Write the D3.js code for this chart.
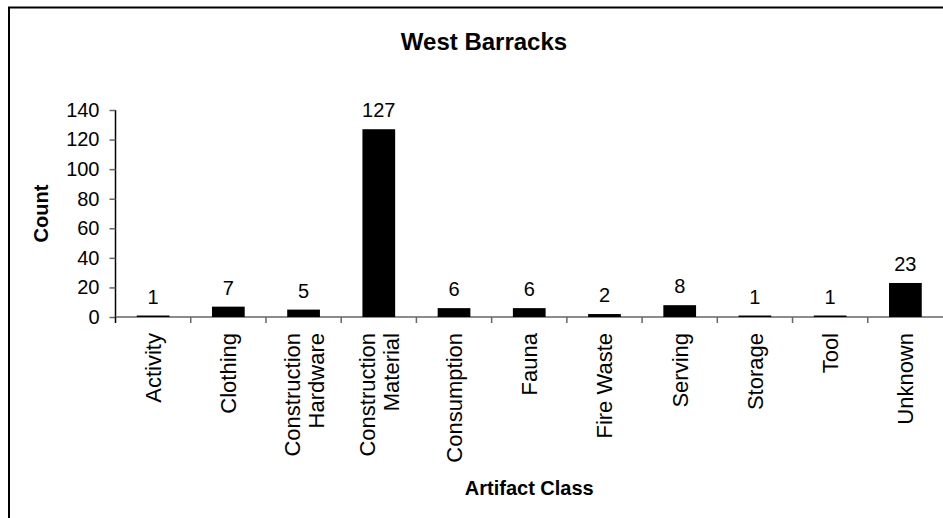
<!DOCTYPE html>
<html><head><meta charset="utf-8">
<script src="https://cdn.jsdelivr.net/npm/d3@7"></script>
<style>
html,body{margin:0;padding:0;background:#fff;}
svg{display:block;font-family:Arial,"Liberation Sans",sans-serif;}
</style></head>
<body><svg id="c" width="943" height="518"></svg>
<script>
const categories = ["Activity","Clothing","Construction Hardware","Construction Material","Consumption","Fauna","Fire Waste","Serving","Storage","Tool","Unknown"];
const categoryLines = [["Activity"],["Clothing"],["Construction","Hardware"],["Construction","Material"],["Consumption"],["Fauna"],["Fire Waste"],["Serving"],["Storage"],["Tool"],["Unknown"]];
const counts = [1,7,5,127,6,6,2,8,1,1,23];
const yTicks = [0,20,40,60,80,100,120,140];
const title = "West Barracks";
const xTitle = "Artifact Class";
const yTitle = "Count";

const svg = d3.select("#c");
const W = 943, H = 518;
const m = {left:115.5, right:0, top:110, bottom:201};
const x = d3.scaleBand().domain(categories).range([m.left, W - m.right]).paddingInner(0.565).paddingOuter(0.2825);
const y = d3.scaleLinear().domain([0,140]).range([H - m.bottom, m.top]);

// outer border (clipped at right/bottom)
svg.append("rect").attr("x",9).attr("y",7.5).attr("width",1000).attr("height",600)
  .attr("fill","none").attr("stroke","#000").attr("stroke-width",2);

svg.append("text").attr("x",484).attr("y",50).attr("text-anchor","middle")
  .attr("font-weight","bold").attr("font-size",24).text(title);

// y axis
const yAxis = svg.append("g").attr("transform",`translate(${m.left},0)`)
  .call(d3.axisLeft(y).tickValues(yTicks).tickSize(6).tickPadding(10).tickFormat(d3.format("d")));
yAxis.select(".domain").attr("stroke","#000").attr("stroke-width",1.5).attr("d",`M0,${y(0)}V${y(140)}`);
yAxis.selectAll(".tick line").attr("stroke","#666").attr("stroke-width",1.5);
yAxis.selectAll(".tick text").attr("font-size",20).attr("fill","#000").attr("font-family","Arial,'Liberation Sans',sans-serif");

// x axis baseline and tick separators
const xg = svg.append("g");
xg.append("line").attr("x1",m.left).attr("x2",W).attr("y1",y(0)).attr("y2",y(0)).attr("stroke","#666").attr("stroke-width",1.5);
const step = x.step();
categories.forEach((c,i)=>{
  const xs = x(c) - (step - x.bandwidth())/2;
  xg.append("line").attr("x1",xs).attr("x2",xs).attr("y1",y(0)).attr("y2",y(0)+6)
    .attr("stroke", i===0 ? "#000" : "#666").attr("stroke-width",1.5);
});

// bars
svg.append("g").selectAll("rect").data(counts).join("rect")
  .attr("x",(d,i)=>x(categories[i])).attr("width",x.bandwidth())
  .attr("y",d=>y(d)).attr("height",d=>y(0)-y(d)).attr("fill","#000");

// value labels
svg.append("g").selectAll("text").data(counts).join("text")
  .attr("x",(d,i)=>x(categories[i])+x.bandwidth()/2).attr("y",d=>y(d)-12)
  .attr("text-anchor","middle").attr("font-size",20).text(d=>d);

// category labels (rotated)
categoryLines.forEach((lines,i)=>{
  const cx = x(categories[i]) + x.bandwidth()/2;
  const n = lines.length;
  lines.forEach((ln,j)=>{
    const off = (j - (n-1)/2) * 24;
    svg.append("text")
      .attr("transform",`translate(${cx + off + 8},333) rotate(-90)`)
      .attr("text-anchor","end").attr("font-size",22).text(ln);
  });
});

// axis titles
svg.append("text").attr("transform",`translate(48,${(y(0)+y(140))/2}) rotate(-90)`)
  .attr("text-anchor","middle").attr("font-weight","bold").attr("font-size",20).text(yTitle);
svg.append("text").attr("x",(m.left+W)/2).attr("y",495).attr("text-anchor","middle")
  .attr("font-weight","bold").attr("font-size",20).text(xTitle);
</script></body></html>
